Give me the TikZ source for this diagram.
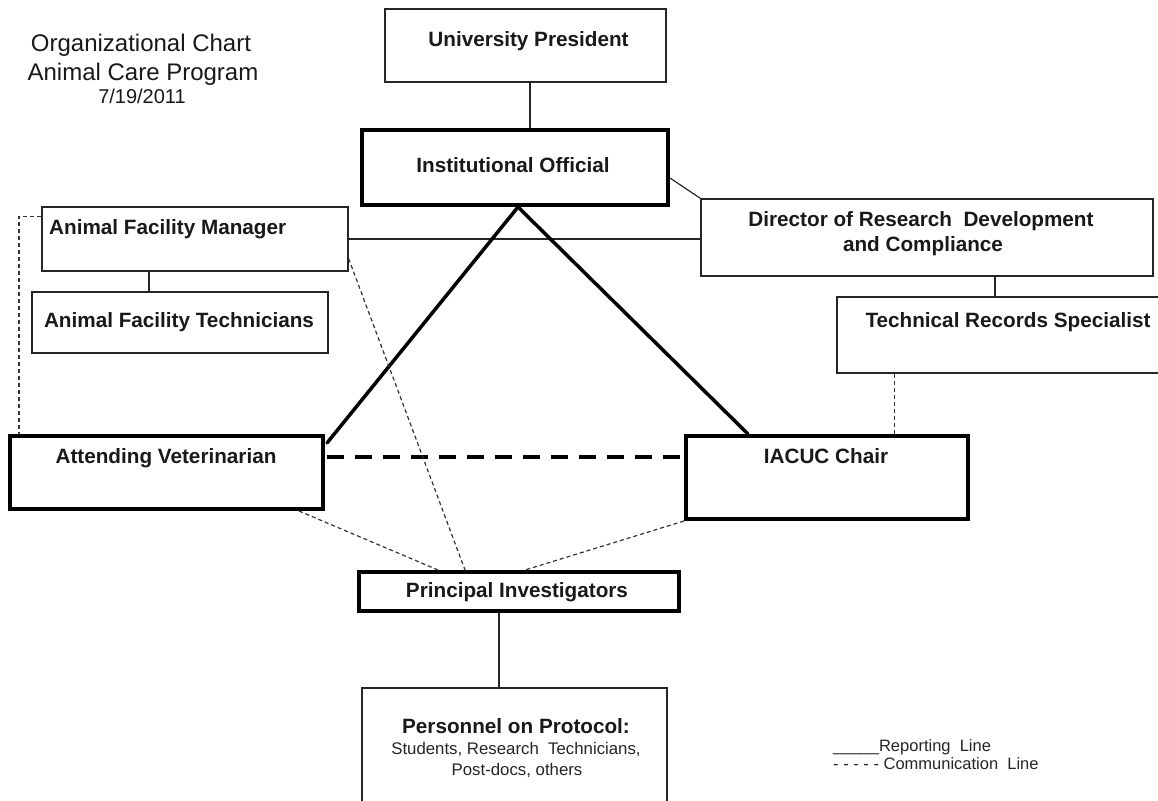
\documentclass[tikz,border=0pt]{standalone}
\usepackage{fontspec}
\setmainfont{Liberation Sans}
\usetikzlibrary{fit,calc}
\begin{document}
\begin{tikzpicture}[x=1pt,y=-1pt,
  thinbox/.style={draw=black!85,line width=1.3pt,inner sep=0pt},
  thickbox/.style={draw=black,line width=4pt,inner sep=0pt},
  lbl/.style={font=\fontsize{20.7}{25}\selectfont\bfseries,anchor=base,inner sep=0pt,text=black!90},
  sublbl/.style={font=\fontsize{16.8}{20}\selectfont,anchor=base,inner sep=0pt,text=black!85},
  titlelbl/.style={font=\fontsize{24}{28}\selectfont,anchor=base,inner sep=0pt,text=black!90},
  legendlbl/.style={font=\fontsize{16.5}{19}\selectfont,anchor=base west,inner sep=0pt,text=black!85},
  report/.style={draw=black!85,line width=1.2pt},
  comm/.style={draw=black!80,line width=1.2pt,dash pattern=on 4pt off 3pt},
  mainrep/.style={draw=black,line width=3.5pt},
  maincomm/.style={draw=black,line width=4pt,dash pattern=on 17pt off 11pt},
]
\clip (0,0) rectangle (1158,800);
\fill[white] (0,0) rectangle (1158,800);

% title
\node[titlelbl] (t1) at (141,52) {Organizational Chart};
\node[titlelbl] (t2) at (143,80) {Animal Care Program};
\node[titlelbl,font=\fontsize{20}{24}\selectfont] (t3) at (142,103) {7/19/2011};

% boxes
\node[thinbox,fit={(385,9) (666,82)}] (up) {};
\node[lbl] (uptxt) at (528.5,46) {University President};

\node[thickbox,fit={(362,130) (668,205)}] (io) {};
\node[lbl] (iotxt) at (513,172) {Institutional Official};

\node[thinbox,fit={(701,199) (1153,276)}] (drdc) {};
\node[lbl] (drdctxt1) at (921,226) {Director of Research\ \ Development};
\node[lbl] (drdctxt2) at (923,251) {and Compliance};

\node[thinbox,fit={(837,297) (1165,373)}] (trs) {};
\node[lbl] (trstxt) at (1008,327) {Technical Records Specialist};

\node[thinbox,fit={(42,207) (348,271)}] (afm) {};
\node[lbl,anchor=base west] (afmtxt) at (49,234) {Animal Facility Manager};

\node[thinbox,fit={(32,292) (328,353)}] (aft) {};
\node[lbl] (afttxt) at (179,327) {Animal Facility Technicians};

\node[thickbox,fit={(10,436) (323,509)}] (av) {};
\node[lbl] (avtxt) at (166,463) {Attending Veterinarian};

\node[thickbox,fit={(686,436) (968,519)}] (iacuc) {};
\node[lbl] (iacuctxt) at (826,463) {IACUC Chair};

\node[thickbox,fit={(359,572) (679,611)}] (pi) {};
\node[lbl] (pitxt) at (517,597) {Principal Investigators};

\node[thinbox,fit={(362,688) (667,830)}] (pers) {};
\node[lbl] (perstxt) at (516,733) {Personnel on Protocol:};
\node[sublbl] (perssub1) at (516,754) {Students, Research\ \ Technicians,};
\node[sublbl] (perssub2) at (517,775) {Post-docs, others};

% reporting lines
\draw[report] ($(up.south)+(4.5,0)$) coordinate (upx) -- (upx |- io.north);
\draw[report] ($(io.east)+(0,10.5)$) -- (drdc.north west);
\draw[report] (afm.east) -- (afm.east -| drdc.west);
\draw[report] (afm.south -| aft.north) ++(-31,0) coordinate (afmx) -- (afmx |- aft.north);
\draw[report] ($(drdc.south)+(68,0)$) coordinate (drx) -- (drx |- trs.north);
\draw[report] ($(pi.south)+(-20,0)$) coordinate (pix) -- (pix |- pers.north);

% main reporting lines
\draw[mainrep,line cap=round] ($(io.south)+(3,0)$) -- ($(av.north east)+(2,9)$);
\draw[mainrep,line cap=round] ($(io.south)+(3,0)$) -- ($(iacuc.north west)+(64,0)$);
\draw[maincomm] ($(av.east)+(2,-15.5)$) -- ($(iacuc.west)+(-2,-20.5)$);

% communication lines
\draw[comm] ($(trs.south west)+(58,0)$) coordinate (trx) -- (trx |- iacuc.north);
\draw[comm] ($(afm.north west)+(0,10)$) -| ($(av.north west)+(11,0)$);
\draw[comm] ($(av.south east)+(-26,0)$) -- ($(pi.north west)+(81,0)$);
\draw[comm] ($(afm.south east)+(0,-13)$) -- ($(pi.north west)+(108,0)$);
\draw[comm] (iacuc.south west) -- ($(pi.north west)+(168,0)$);

% legend
\node[legendlbl] (leg1) at (833,751) {\_\_\_\_\_Reporting\ \ Line};
\node[legendlbl] (leg2) at (833,769) {- - - - - Communication\ \ Line};
\end{tikzpicture}
\end{document}
